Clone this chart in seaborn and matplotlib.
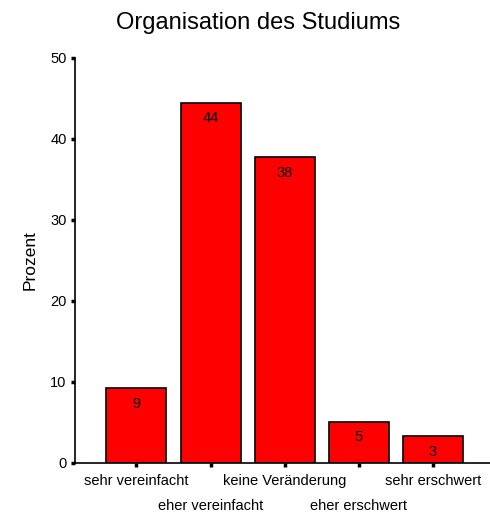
import matplotlib
matplotlib.use("Agg")
import matplotlib.pyplot as plt
import seaborn as sns
import pandas as pd

categories = ["sehr vereinfacht", "eher vereinfacht", "keine Veränderung",
              "eher erschwert", "sehr erschwert"]
percent = [9.2, 44.4, 37.7, 5.1, 3.3]
value_labels = ["9", "44", "38", "5", "3"]
y_ticks = [0, 10, 20, 30, 40, 50]

sns.set_theme(style="white")
plt.rcParams["font.family"] = ["Liberation Sans", "DejaVu Sans"]
plt.rcParams["text.color"] = "black"
plt.rcParams["axes.labelcolor"] = "black"
plt.rcParams["xtick.color"] = "black"
plt.rcParams["ytick.color"] = "black"

FONT = ["Liberation Sans", "DejaVu Sans"]

df = pd.DataFrame({"Kategorie": categories, "Prozent": percent})

fig = plt.figure(figsize=(4.9, 5.13), dpi=100)
ax = fig.add_axes([0.153, 0.0975, 0.847, 0.79])

sns.barplot(data=df, x="Kategorie", y="Prozent", color="#ff0000",
            saturation=1, edgecolor="black", linewidth=1.2, width=0.81, ax=ax)

for patch, lab in zip(ax.patches, value_labels):
    ax.annotate(lab, (patch.get_x() + patch.get_width() / 2, patch.get_height()),
                xytext=(0, -6), textcoords="offset points",
                ha="center", va="top", fontsize=10.5, color="black", family=FONT)

ax.set_xlim(-0.83, 4.77)
ax.set_ylim(0, 50)
ax.set_yticks(y_ticks)
ax.set_yticklabels([str(t) for t in y_ticks], fontsize=10.5, family=FONT)

ax.set_xticks(range(len(categories)))
ax.set_xticklabels(categories, fontsize=10.5, family=FONT)
for i, t in enumerate(ax.get_xticklabels()):
    if i % 2 == 1:
        t.set_y(-0.062)

ax.tick_params(axis="x", pad=5)
ax.tick_params(axis="y", pad=3)
ax.tick_params(axis="both", direction="out", length=3, width=2.5, color="black",
               bottom=True, left=True)
ax.set_xlabel("")
ax.set_ylabel("Prozent", fontsize=12.5, labelpad=9, family=FONT)

sns.despine(ax=ax, top=True, right=True)
for side in ("left", "bottom"):
    ax.spines[side].set_color("black")
    ax.spines[side].set_linewidth(1.2)

fig.text(0.527, 0.955, "Organisation des Studiums", ha="center", va="center",
         fontsize=17, family=FONT, color="black")

fig.savefig("out.png", dpi=100)
